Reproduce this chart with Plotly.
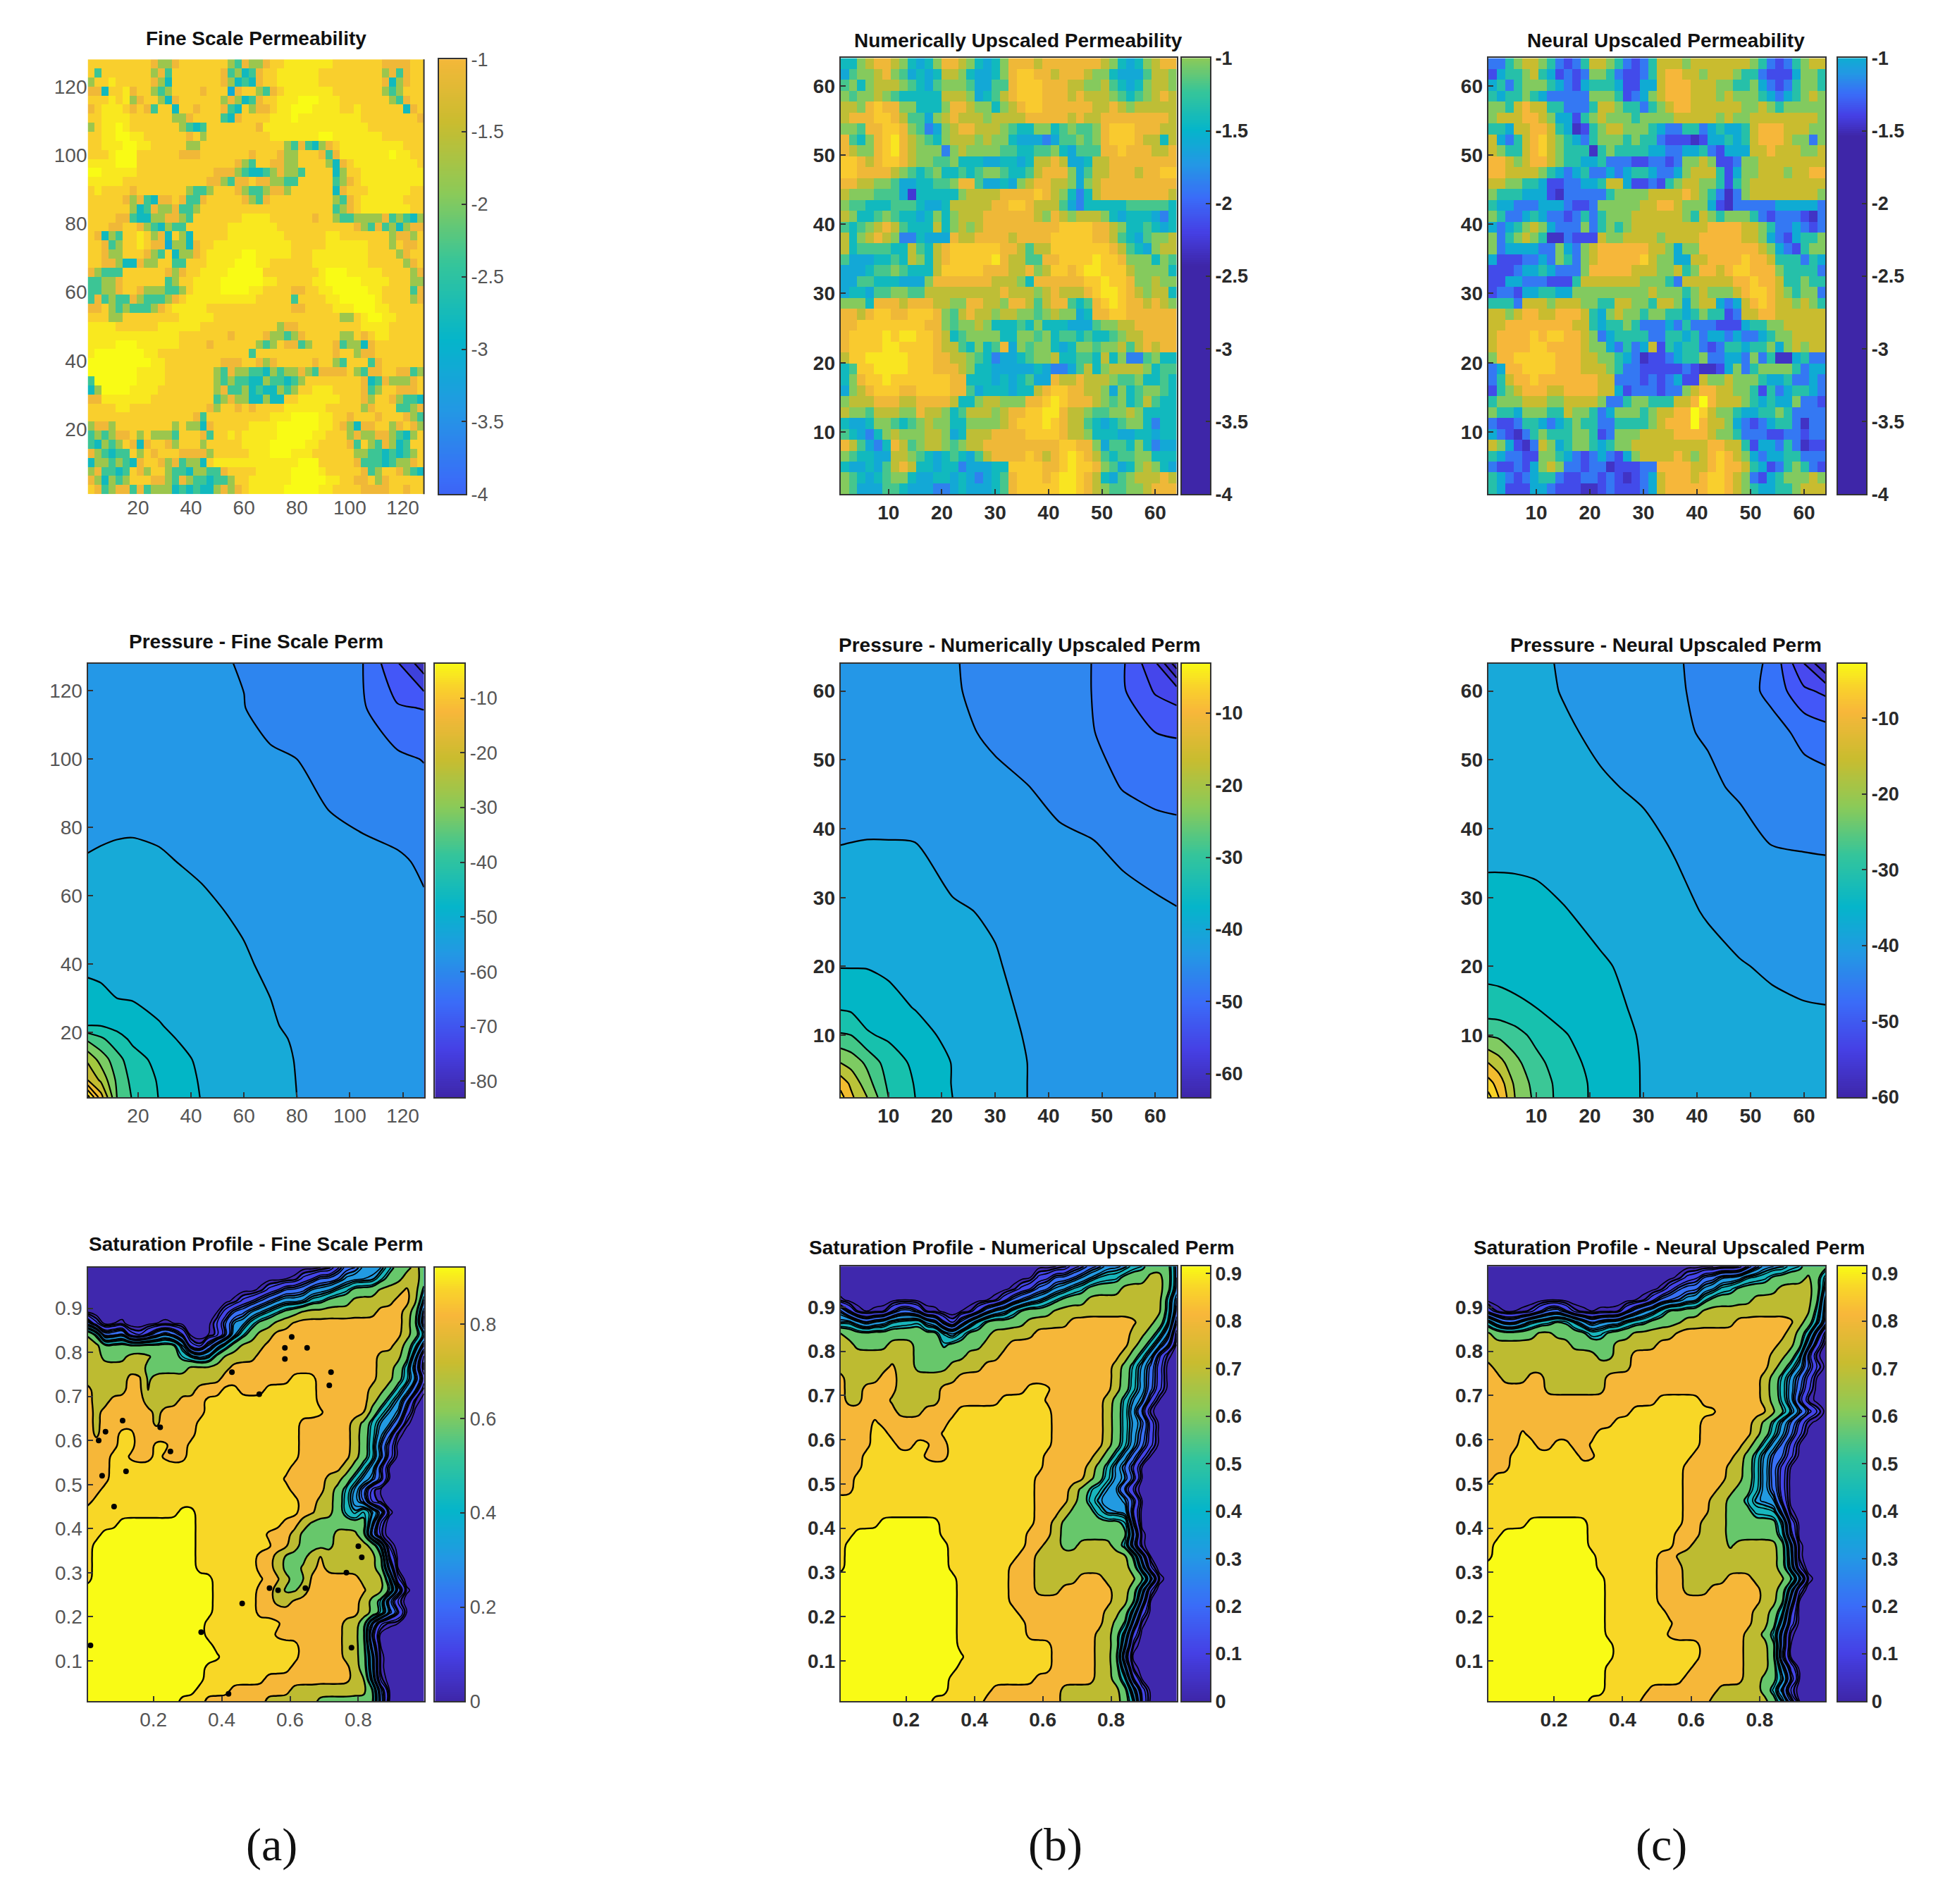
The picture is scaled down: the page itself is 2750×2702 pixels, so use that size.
import plotly.graph_objects as go

W, H = 2750, 2702

PARULA = [[0, "#3e26a8"], [.11, "#4540e5"], [.22, "#3a6cf8"], [.33, "#2398e4"], [.44, "#05b5ca"],
          [.56, "#35c59a"], [.67, "#8bca58"], [.78, "#c9bc2f"], [.89, "#f8b73a"], [.95, "#f9d42a"], [1, "#f9fb15"]]

TITLES = [["Fine Scale Permeability", "Numerically Upscaled Permeability", "Neural Upscaled Permeability"],
          ["Pressure - Fine Scale Perm", "Pressure - Numerically Upscaled Perm", "Pressure - Neural Upscaled Perm"],
          ["Saturation Profile - Fine Scale Perm", "Saturation Profile - Numerical Upscaled Perm", "Saturation Profile - Neural Upscaled Perm"]]
COLUMN_LABELS = ["(a)", "(b)", "(c)"]

# permeability: value of each digit class, per panel
PERM_A_LEVELS = [-4.0, -3.56, -3.12, -2.81, -2.37, -1.79, -1.04, -0.735, -0.58, -0.47]
PERM_B_LEVELS = [-2.26, -1.85, -1.60, -1.43, -1.19, -1.02, -0.81, -0.58, -0.45, -0.36]
PERM_C_LEVELS = [-1.47, -1.36, -1.21, -1.01, -0.85, -0.67, -0.51, -0.37, -0.30, -0.22]

PERM_A = [
"777777777655677777775465567788888887777777666677",
"747777777564777777764534677888888777777777564677",
"577877777653777777765343677888888777777777635677",
"663778677545777767772677546788888887777777545777",
"777878567753677777756534677888999888777777754677",
"678887676477377677764375667889998888778777777367",
"778888777777556777743677778889888888888777777776",
"578898777777754347777777688888888888888877777777",
"778899887777776757777777778888888998888888777777",
"778889988777775577777777777754643567888888888777",
"777899977777766677777776777655777646888888898877",
"888899977777777777777654776655777753678888888887",
"998888877777777777666543345655477773577888888888",
"888887777777777776654667665544777774567888888888",
"787777677777775445777654456657777773677788888877",
"777776564366764467777765467777777775467888888777",
"777777534655644577777777777777777774567888888877",
"777766433556654777777788887777776775445555645435",
"777667765435447777778888888777777777776546453566",
"763547787563753777778888888877777788777777756657",
"776457787662553677888888888887777788888877757667",
"776557776547355678888899888887778888888877775677",
"776653365577447778888999887777778888888877777567",
"654447777776567788889999977777777899988888777756",
"445567777774577888899999988777778899999888877755",
"445567765554457888899998877776677889999988777746",
"464544654445678888888888777774777788999998777756",
"667545444567888887777777777776677778889998877777",
"777557777777788888777777777777777777557899887777",
"888877777788888877777777777566777777777888877777",
"888888888888877777776777765545677777557678877777",
"888899988888877776777777545766457776455367777777",
"899999998877777777777774777777777776775667777777",
"999999999887777777766677656777776775477746777777",
"999999988887777777546554435455654666675466776645",
"499999988887777777545443354434577777777634655567",
"359999888877777777564453433545778887777645776667",
"668888888777777777456553353377888888777657765443",
"777788777777777776577676777788888877777567774456",
"777777777777777647777777778889999887767776777654",
"566577777777575536777778888999999887653667756765",
"454566757555477764778788888999998877756556654357",
"435457636776577757777788889999988777764754653477",
"654344757677766665777778889998887777775544343457",
"355454367765645537888888888888999777776444345567",
"564434765775443554467777888889999877777645776543",
"653545777665465443445778888889999988776675677777",
"764566464555343433565678888899999887777666677677"]

PERM_B = [
"3356776532357765323577767777777653235677",
"2455675423236653223578877677765532224665",
"4535666543245554224478887776655643235665",
"5455654333336665234678887776766654345676",
"6657877553335776553567887777776676566666",
"6777887644256766656666777776766777777776",
"5547788754125677666543355345445788877766",
"7435789765435666565532221244545788876636",
"7655789765551565555443344532444778777667",
"8876788765544533322332366762236677777777",
"8877776543453343455433467775246677767788",
"7766554223344577422325677665256777777777",
"6555444203333356666777787653136777777776",
"5443334443223666667788766642133333444443",
"6533454332353566677777765765666532333213",
"4345676433363565677777777788887765334323",
"6356765113222766777767777888887764324556",
"6344443364367888888776466888888876432566",
"4222334365367888889766447788889887555354",
"2223445433368888877766756887899888655553",
"2244333222577777776665377777788988755655",
"2332445544666666666766656766678998765663",
"5553777677766557766577646774347898776765",
"7767887788875467665665545655237788777777",
"7788888888775455653334353332224556677777",
"7888898998876345555335545344343345667777",
"7888899888876643534725455323554556467677",
"6889999988877665431223455633443635114533",
"3488999988877765332222232112463566665344",
"3578898888888773332323422766766654453343",
"2567888778888774233323367887766525345543",
"5666777667777633566555778987776545346433",
"6554666557665346665677889976654455653333",
"3223554345655335555678889876643234553133",
"4321356555665236667777888876653332233233",
"7642137645665456677777777788775244353122",
"5433226654323432467777876789876434455333",
"3223246763323312223388887789887542356532",
"5432345532233232123478887899876324566676",
"5422244322211232223478888899876544556777"]

PERM_C = [
"2245665421246654212466656666666542124566",
"1344564312125542112467766566654421113554",
"3424555432134443113367776665544532124554",
"4344543222225554123567776665655543234565",
"5546766442224665442456776666665565455555",
"5666776533145655545555666665655666666665",
"4436677643014566555432244234334677766655",
"6324678654324555454421110133434677765525",
"6544678654440454444332233421333667666556",
"7765677654433422211221255651125566666666",
"7766665432342232344322356664135566656677",
"6655443112233466311214566554145666666666",
"5444333102222245555666676542025666666665",
"4332223332112555556677655531022222333332",
"5422343221242455566666654654555421222102",
"3234565322252454566666666677776654223212",
"5245654002111655666656666777776653213445",
"5233332253256777777665355777777765321455",
"3111223254256777778655336677778776444243",
"1112334322257777766655645776788777544442",
"1133222111466666665554266666677877644544",
"1221334433555555555655545655567887654552",
"4442666566655446655466535663236787665654",
"6656776677764356554554434544126677666666",
"6677777777664344542223242221113445566666",
"6777787887765234444224434233232234556666",
"6777788777765532423614344212443445356566",
"5778888877766554320112344522332524003422",
"2377888877766654221111121001352455554233",
"2467787777777662221212311655655543342232",
"1456777667777663122212256776655414234432",
"4555666556666522455444667976665434335221",
"5443555446554235554566779865543344542222",
"2112443234544224444567779766532123442022",
"3210245444554125556666777765542221122122",
"6531026534554345566666666677664133242011",
"4322115543212321356666765678765323344222",
"2112135652212201112277776678776431245421",
"4321234421122121012367776788765213455565",
"4311133211100121112367777788765433445666"]

# pressure nodes and values (rows bottom to top)
P_A_X = [1, 6, 12, 18, 28, 44, 60, 70, 80, 92, 105, 118, 128]
P_A_Y = [1, 6, 12, 18, 22, 30, 40, 55, 70, 85, 100, 115, 128]
P_A_Z = [
[-3, -18, -35, -40.5, -45.2, -50.2, -52.5, -54, -55, -56, -57, -58, -58.5],
[-20, -26, -36, -41.5, -45.5, -50.5, -52.6, -54, -55.05, -56.2, -57.1, -58, -58.6],
[-26, -32, -38, -43, -46.5, -51, -53, -54.3, -55.1, -56.8, -57.5, -58.2, -58.8],
[-36, -39, -43, -46, -49, -51.5, -53.3, -54.6, -55.2, -56.9, -57.6, -58.3, -58.9],
[-45, -45.2, -46.5, -47.5, -49.8, -52, -53.5, -54.8, -55.4, -57, -57.6, -58.3, -59],
[-48.5, -49.2, -50, -50.3, -51, -52.5, -53.8, -55, -56, -57.1, -57.7, -58.4, -59.1],
[-51, -51, -51.2, -51.3, -52, -53, -54.5, -55.8, -56.6, -57.2, -57.8, -58.4, -59.2],
[-52.5, -52.5, -52.6, -52.8, -53.2, -54.2, -55.6, -56.2, -56.9, -57.5, -58.1, -58.8, -59.4],
[-54.8, -54.6, -54.4, -54.3, -54.6, -55.6, -56.5, -57, -57.5, -58, -58.8, -59.4, -60.6],
[-56, -55.9, -55.8, -55.8, -56, -56.8, -57.5, -58, -58.8, -60, -61, -62, -62.6],
[-57, -57, -57, -57.1, -57.4, -58.1, -58.8, -59.4, -60, -61, -62.5, -64, -65.2],
[-57.5, -57.5, -57.5, -57.7, -58, -59, -59.9, -61.5, -62, -63, -64.5, -69.5, -70.2],
[-58, -58, -58, -58.2, -58.6, -59.4, -60.2, -61.5, -62.2, -63.2, -65, -74.5, -83]]

P_B_X = [1, 3, 6, 10, 15, 22, 30, 36, 42, 48, 54, 60, 64]
P_B_Y = [1, 3, 6, 10, 14, 20, 28, 38, 46, 54, 60, 64]
P_B_Z = [
[-3, -9, -15, -25, -30, -35, -38.5, -40, -41, -42, -42.8, -43.5, -44],
[-7, -11, -18, -26, -30.3, -35.2, -38.6, -40, -41, -42, -42.8, -43.5, -44],
[-15, -17, -21, -27.5, -31, -35.2, -38.7, -40, -41, -42, -42.8, -43.5, -44],
[-24.5, -25, -29.5, -30.8, -33, -36.5, -39, -40.2, -41.2, -42.1, -43, -43.7, -44.2],
[-30.5, -31, -32, -33.5, -35.2, -37.5, -39.4, -40.4, -41.4, -42.3, -43.1, -43.8, -44.3],
[-35.2, -35.2, -35.2, -35.8, -37, -38.8, -39.7, -41, -41.8, -42.6, -43.3, -44, -44.5],
[-37.5, -37.5, -37.5, -37.6, -38.5, -39.6, -40.4, -41.4, -42.2, -43, -43.6, -44.3, -44.8],
[-40.1, -40, -39.9, -39.9, -40, -41.5, -42.8, -43.5, -44.4, -44.8, -46, -47, -47.5],
[-41.8, -41.8, -41.8, -42, -42.4, -43.2, -44.2, -44.9, -46, -47.5, -50.3, -52, -52.5],
[-42.5, -42.5, -42.6, -42.8, -43.2, -44.2, -45.6, -46.5, -47.5, -49.8, -51.5, -55, -55.3],
[-43, -43, -43, -43.2, -43.6, -44.7, -46, -47, -48.5, -50, -54.5, -60.5, -62.5],
[-43.2, -43.2, -43.2, -43.4, -43.8, -44.8, -46, -47.2, -48.8, -50, -54.5, -64, -78]]

P_C_X = [1, 3, 6, 10, 15, 22, 30, 36, 42, 48, 54, 60, 64]
P_C_Y = [1, 3, 6, 10, 14, 20, 28, 38, 46, 54, 60, 64]
P_C_Z = [
[-3, -10, -20, -26.5, -32, -36.5, -40.3, -41.5, -42.5, -43, -43.8, -44.3, -44.6],
[-8, -12, -21, -27, -32, -36.6, -40.3, -41.5, -42.5, -43, -43.8, -44.3, -44.6],
[-15, -18, -23.5, -28.5, -33, -37, -40.3, -41.6, -42.5, -43.2, -44, -44.4, -44.7],
[-25.5, -26, -28, -31.5, -34.5, -38, -40.4, -41.8, -42.7, -43.4, -44.2, -44.6, -44.8],
[-33, -33.2, -34, -35, -37, -39, -40.6, -42, -43, -43.7, -44.5, -44.8, -44.9],
[-36.5, -36.7, -37, -37.5, -38.3, -39.6, -41, -42.5, -43.5, -44.8, -45.4, -46, -46.3],
[-38.7, -38.7, -38.8, -39, -39.8, -41, -42.6, -43.8, -45.4, -46.2, -47, -47.5, -47.8],
[-41, -41, -41, -41.2, -41.7, -42.7, -44, -45.4, -46.5, -48, -50.2, -50.4, -50.5],
[-42, -42, -42, -42.3, -42.9, -44.5, -45.6, -46.8, -49, -50.8, -52, -52.7, -53],
[-43, -43, -43, -43.4, -44.4, -45.8, -47, -49.2, -50.5, -51.5, -53, -56.5, -58],
[-43.5, -43.5, -43.6, -44, -45.2, -46.5, -47.8, -49.5, -51, -52.5, -56.5, -64, -66],
[-43.6, -43.6, -43.7, -44.2, -45.4, -46.8, -48, -49.6, -51.2, -52.5, -56, -70, -80]]

P_A_BANDS = ["#3b2fb8", "#3e3fd8", "#4455f8", "#3b6cfa", "#2e84f0", "#2596e8", "#19a9d8", "#00b5c8", "#14c0b0",
             "#3ec78a", "#78cc66", "#a0c840", "#c0bb30", "#e8b830", "#ffc030", "#f8d828", "#f9fb15"]
P_B_BANDS = ["#3c2db0", "#3e2fb8", "#4338d0", "#4545ea", "#4455f6", "#3672f8", "#3086f0", "#2596e8", "#18a8dc",
             "#00b5c8", "#14c0b0", "#3ec78a", "#78cc66", "#b5c43a", "#f0ba30", "#f9dc25"]
P_C_BANDS = ["#3e2fb8", "#4338d0", "#4848ee", "#4455f8", "#3670fa", "#2e85f0", "#2596e8", "#1aa8da", "#00b5c8",
             "#14c0b0", "#35c79a", "#7ccc66", "#b5c43a", "#f0ba30", "#f8d028", "#f9f020"]

# saturation class maps, top row first; class d covers saturation d/10 .. (d+1)/10
SAT_BANDS = ["#3e26a8", "#4540e5", "#3a6cf8", "#2398e4", "#12b4c4", "#60c870", "#b8bc30", "#f6b53a", "#f8d428", "#f9fb15"]
SAT_A = [
"0000000000000000000000000000012233345565",
"0000000000000000000000000112223333455665",
"0000000000000000000001122233344555666764",
"0000000000000000001122333344555666667763",
"0000000000000000122334455666666666777652",
"2000000000000001233455667777777777777651",
"6512300123210000134566777777777777777654",
"6655555555540023456667777777777777776542",
"6655566655544335666677777777777777666530",
"6666666555556666677777777777777777665420",
"6666677566666666777777778887777777665431",
"7666677566666777887778888887777776654320",
"7667777666677788888888888887777776543200",
"7677777767776788888888888888777775433100",
"7677777767777888888888888777777654332000",
"7677887677777888888888888777777654320000",
"7777887788778888888888888777777654210000",
"7778877787778888888888888777777654310000",
"7778888888888888888888887777776543100000",
"7778888888888888888888877777665433200000",
"7788888888888888888888887777654320000000",
"7888888888888888888888888776654320000000",
"8888888888899888888888888776654354300000",
"8888999999999888888888877655555553000000",
"8899999999999888888887776555566651000000",
"8999999999999888888888776555566666400000",
"8999999999999888888877655567666666510000",
"8999999999999888888877655667666666520000",
"8999999999999998888887765577777766640000",
"9999999999999998888877655677777776653000",
"9999999999999998888877667777777765410000",
"9999999999999998888877777777777766532000",
"9999999999999988888888877777776652000000",
"9999999999999988888888777777776651000000",
"9999999999999998888888888777776652000000",
"9999999999999999888888888777776653000000",
"9999999999999988888888887777777653000000",
"9999999999999988888887777777777663000000",
"9999999999999888877777776666666665200000",
"9999999999988877777776666665555555200000"]

SAT_B = [
"0000000000000000000000000001122333445553",
"0000000000000000000000011222334445556653",
"0000000000000000000001122334455556666653",
"0000000000000000000122334455566666666642",
"3100001221000000123345555666666666666642",
"3432334445331023455555666667777777766541",
"6555555555554345556666677777777777665430",
"6655556665554555566677777777777777654320",
"6666666665555556666777777777777776543100",
"6666667665555666677777777777777765432100",
"7666677666666677777777777777777765432100",
"7667777666667777777777888777777765432100",
"7667776666667777777888887777777654331000",
"7777777666777788888888888777777654310000",
"7777877777777888888888888777777654331000",
"7777887777778888888888888777777654321000",
"7777888778877888888888888777777654321000",
"7778888888777888888888887777776543210000",
"7778888888888888888888887777765432100000",
"7788888888888888888888877777765433200000",
"7788888888888888888888877776544331000000",
"8888888888888888888888877776543333200000",
"8888888888888888888888877765554333100000",
"8888899999998888888888877655555555100000",
"8899999999998888888888777655555555300000",
"8999999999999888888888776655666654100000",
"8999999999999888888887766666666666520000",
"8999999999999888888877766666666666530000",
"9999999999999988888877766666777666654000",
"9999999999999988888877766677777766530000",
"9999999999999988888877777777777766520000",
"9999999999999988888887777777777665310000",
"9999999999999988888888777777777655200000",
"9999999999999988888888777777776653100000",
"9999999999999988888888888777776653000000",
"9999999999999998888888888777776651000000",
"9999999999999988888888888777776653000000",
"9999999999999888888888877777776654100000",
"9999999999999888887777777766666665310000",
"9999999999988888877777777766666665410000"]

SAT_C = [
"0000000000000000000000000000001233344555",
"0000000000000000000000011223334445555653",
"0000000000000000000001222334455555666653",
"0000000000000000000122233455555666666652",
"1000001221000000123345555666666666666642",
"4322344455432333444555566666677777776542",
"6555556655554455566666777777777777765420",
"6666666666555556666677777777777777665310",
"6666666666666556677777777777777776654100",
"7666666666666666677777777777777776543210",
"7766677666666677777777777777777765432100",
"7777777666666677777777777777777765432100",
"7777777777777777777788888777777765431000",
"7777777777777777788888888887777776543210",
"7777777777777778888888888777777654321000",
"7777877777777888888888888777777654321000",
"7777887788778888888888888777776543210000",
"7778888888877888888888887777765432210000",
"7778888888888888888888877777665432100000",
"7888888888888888888888877777665432100000",
"8888888888888888888888877776655432100000",
"8888888888888888888888877766554333100000",
"8888888888888888888888877766555444200000",
"8888899999998888888888877666555555410000",
"8899999999998888888888777666555555410000",
"8999999999998888888888776666566666530000",
"8999999999999888888877666666666666530000",
"9999999999999888888877766666666666530000",
"9999999999999988888877766666777666654000",
"9999999999999988888877766677777766530000",
"9999999999999988888877777777777766520000",
"9999999999999988888887777777777665410000",
"9999999999999988888888777777777665310000",
"9999999999999988888887777777776654200000",
"9999999999999998888888888777776665200000",
"9999999999999998888888888777776665100000",
"9999999999999988888888887777776665310000",
"9999999999999988888888877777776655420000",
"9999999999999988888777777776666654200000",
"9999999999998888887777777766666665420000"]

DOTS_A_X = [.04, .06, .11, .22, .25, .05, .12, .085, .43, .51, .585, .605, .65, .72, .715, .016, .46, .54, .565, .645, .765, .8, .81, .78, .34, .42, .585]
DOTS_A_Y = [.6, .62, .645, .63, .575, .52, .53, .45, .755, .705, .785, .835, .81, .755, .725, .135, .23, .265, .26, .265, .3, .36, .335, .13, .165, .025, .81]

SAT_LEVEL_VALUES = [0.05, 0.15, 0.25, 0.35, 0.45, 0.55, 0.65, 0.75, 0.85, 0.95]

# panel boxes: left, right, top, bottom in the shrunk picture; colour bars left, right
ROWS_Y = [[(48, 400), (47, 400), (47, 400)], [(537, 888)] * 3, [(1026, 1377), (1025, 1377), (1025, 1377)]]
COLS_X = [(71, 343), (680, 952), (1204, 1477)]
CB_X = [[(355, 377), (956, 979), (1487, 1510)], [(352, 376), (956, 979), (1487, 1510)], [(352, 376), (956, 979), (1487, 1510)]]
TITLE_POS = [[(207, 31), (824, 33), (1348, 33)], [(207, 519), (825, 522), (1348, 522)], [(207, 1007), (827, 1010), (1351, 1010)]]
LABEL_POS = [(220, 1493), (854, 1493), (1344, 1493)]

CB_RANGE = [[(-4, -1), (-4, -1), (-4, -1)], [(-82.9, -3.7), (-63.25, -3.15), (-60, -2.8)], [(0, .92), (0, .915), (0, .915)]]
CB_TICKS = [[[-1, -1.5, -2, -2.5, -3, -3.5, -4]] * 3,
            [[-10, -20, -30, -40, -50, -60, -70, -80], [-10, -20, -30, -40, -50, -60], [-10, -20, -30, -40, -50, -60]],
            [[0, .2, .4, .6, .8], [0, .1, .2, .3, .4, .5, .6, .7, .8, .9], [0, .1, .2, .3, .4, .5, .6, .7, .8, .9]]]
PERM_C_RANGE = [(-4.88, -.47), (-2.43, -.30), (-1.54, -.22)]

AX_RANGE = [[(1, 128), (1, 64), (1, 64)], [(1, 128), (1, 64), (1, 64)], [(.008, .992)] * 3]
AX_TICKS = [[[20, 40, 60, 80, 100, 120], [10, 20, 30, 40, 50, 60], [10, 20, 30, 40, 50, 60]],
            [[20, 40, 60, 80, 100, 120], [10, 20, 30, 40, 50, 60], [10, 20, 30, 40, 50, 60]],
            [[.2, .4, .6, .8]] * 3]
AX_YTICKS = [AX_TICKS[0], AX_TICKS[1], [[.1, .2, .3, .4, .5, .6, .7, .8, .9]] * 3]

FONT = "Liberation Sans, sans-serif"
TICK_SIZE = 28
TITLE_SIZE = 28


def digits(rows, n, levels):
    out = []
    for r in rows:
        r = (r + r[-1] * n)[:n]
        out.append([levels[int(c)] for c in r])
    return out


def soften(z):
    """Light neighbour blend of a class map so that its contour lines do not follow the cell steps."""
    ny, nx = len(z), len(z[0])
    out = []
    for j in range(ny):
        row = []
        for i in range(nx):
            up = z[max(j - 1, 0)][i]
            dn = z[min(j + 1, ny - 1)][i]
            lf = z[j][max(i - 1, 0)]
            rt = z[j][min(i + 1, nx - 1)]
            row.append(.5 * z[j][i] + .125 * (up + dn + lf + rt))
        out.append(row)
    return out


def band_scale(colors):
    # stops placed where the contour fills sample the scale
    n = len(colors)
    s = [[0, colors[0]]]
    for i, c in enumerate(colors):
        s.append([(i + .92) / n, c])
    s.append([1, colors[-1]])
    return s


fig = go.Figure()
layout = {}
annots = []
shapes = []
ax_n = 0

for r in range(3):
    for c in range(3):
        ax_n += 1
        xa, ya = f"x{ax_n}", f"y{ax_n}"
        x0, x1 = COLS_X[c]
        y0, y1 = ROWS_Y[r][c]
        tick_color = "#555555" if c == 0 else "#2a2a2a"
        tick_font = dict(family=FONT, size=TICK_SIZE, color=tick_color, weight=400 if c == 0 else 700)
        frameless = r == 0 and c == 0
        common = dict(showgrid=False, zeroline=False, ticks="" if frameless else "inside", ticklen=7, tickwidth=2, tickcolor="#333333",
                      showline=not frameless, linecolor="#333333", linewidth=2, mirror=True, tickfont=tick_font, automargin=False)
        rng = AX_RANGE[r][c]
        xfmt = dict(tickvals=AX_TICKS[r][c], ticktext=[str(v) for v in AX_TICKS[r][c]])
        yfmt = dict(tickvals=AX_YTICKS[r][c], ticktext=[str(v) for v in AX_YTICKS[r][c]])
        layout[f"xaxis{ax_n}"] = dict(domain=[x0 / 1568, x1 / 1568], anchor=ya, range=list(rng), **xfmt, **common)
        layout[f"yaxis{ax_n}"] = dict(domain=[1 - y1 / 1541, 1 - y0 / 1541], anchor=xa, range=list(rng), **yfmt, **common)
        if frameless:
            shapes.append(dict(type="line", xref="x domain", yref="y domain", x0=1, x1=1, y0=0, y1=1,
                               line=dict(color="#333333", width=2)))

        if r == 0:
            rows = [PERM_A, PERM_B, PERM_C][c]
            levels = [PERM_A_LEVELS, PERM_B_LEVELS, PERM_C_LEVELS][c]
            n = 48 if c == 0 else 40
            lo, hi = rng
            gx = [lo + (hi - lo) * (i + .5) / n for i in range(n)]
            z = digits(rows, n, levels)[::-1]
            cmin, cmax = PERM_C_RANGE[c]
            fig.add_trace(go.Heatmap(x=gx, y=gx, z=z, zmin=cmin, zmax=cmax, colorscale=PARULA, showscale=False,
                                     zsmooth=False, xaxis=xa, yaxis=ya, hoverinfo="skip"))
        elif r == 1:
            X, Y, Z, B = [(P_A_X, P_A_Y, P_A_Z, P_A_BANDS), (P_B_X, P_B_Y, P_B_Z, P_B_BANDS), (P_C_X, P_C_Y, P_C_Z, P_C_BANDS)][c]
            size = 5
            start = -5 - size * (len(B) - 1)
            fig.add_trace(go.Contour(x=X, y=Y, z=Z, colorscale=band_scale(B), showscale=False, autocontour=False,
                                     contours=dict(start=start, end=-5, size=size, coloring="fill", showlines=True),
                                     line=dict(color="black", width=2.2, smoothing=.7), xaxis=xa, yaxis=ya, hoverinfo="skip"))
        else:
            rows = [SAT_A, SAT_B, SAT_C][c]
            n = 40
            lo, hi = rng
            gx = [lo + (hi - lo) * i / (n - 1) for i in range(n)]
            z = soften(digits(rows, n, SAT_LEVEL_VALUES)[::-1])
            fig.add_trace(go.Contour(x=gx, y=gx, z=z, colorscale=band_scale(SAT_BANDS), showscale=False, autocontour=False,
                                     contours=dict(start=0, end=.9, size=.1, coloring="fill", showlines=True),
                                     line=dict(color="black", width=2.4, smoothing=1.3), xaxis=xa, yaxis=ya, hoverinfo="skip"))
            fig.add_trace(go.Contour(x=gx, y=gx, z=z, showscale=False, autocontour=False,
                                     contours=dict(start=.075, end=.5, size=.05, coloring="none", showlines=True),
                                     line=dict(color="black", width=1.6, smoothing=1.3), xaxis=xa, yaxis=ya, hoverinfo="skip"))
            if c == 0:
                fig.add_trace(go.Scatter(x=DOTS_A_X, y=DOTS_A_Y, mode="markers", marker=dict(color="black", size=8),
                                         xaxis=xa, yaxis=ya, hoverinfo="skip", showlegend=False))

        # colour bar axes
        ax_n += 1
        xa, ya = f"x{ax_n}", f"y{ax_n}"
        bx0, bx1 = CB_X[r][c]
        blo, bhi = CB_RANGE[r][c]
        steps = 200
        by = [blo + (bhi - blo) * i / steps for i in range(steps + 1)]
        if r == 0:
            zmin, zmax = PERM_C_RANGE[c]
        else:
            zmin, zmax = blo, bhi
        fig.add_trace(go.Heatmap(x=[0, 1], y=by, z=[[v, v] for v in by], zmin=zmin, zmax=zmax, colorscale=PARULA,
                                 showscale=False, xaxis=xa, yaxis=ya, hoverinfo="skip"))
        layout[f"xaxis{ax_n}"] = dict(domain=[bx0 / 1568, bx1 / 1568], anchor=ya, range=[0, 1], showticklabels=False, ticks="",
                                      showgrid=False, zeroline=False, showline=True, linecolor="#333333", linewidth=2, mirror=True,
                                      automargin=False)
        ticks = CB_TICKS[r][c]
        layout[f"yaxis{ax_n}"] = dict(domain=[1 - y1 / 1541, 1 - y0 / 1541], anchor=xa, side="right", range=[blo, bhi],
                                      tickvals=ticks, ticktext=[str(t) for t in ticks], ticks="inside", ticklen=6, tickwidth=2,
                                      tickcolor="#333333", showgrid=False, zeroline=False, showline=True, linecolor="#333333",
                                      linewidth=2, mirror=True, automargin=False,
                                      tickfont=dict(family=FONT, size=TICK_SIZE - 1, color=tick_color, weight=400 if c == 0 else 700))

        tx, ty = TITLE_POS[r][c]
        annots.append(dict(text=f"<b>{TITLES[r][c]}</b>", x=tx / 1568, y=1 - ty / 1541, xref="paper", yref="paper",
                           xanchor="center", yanchor="middle", showarrow=False,
                           font=dict(family=FONT, size=TITLE_SIZE, color="#111111")))

for (lx, ly), lab in zip(LABEL_POS, COLUMN_LABELS):
    annots.append(dict(text=lab, x=lx / 1568, y=1 - ly / 1541, xref="paper", yref="paper", xanchor="center", yanchor="middle",
                       showarrow=False, font=dict(family="Liberation Serif, serif", size=66, color="#111111")))

fig.update_layout(template="none", width=W, height=H, margin=dict(l=0, r=0, t=0, b=0), paper_bgcolor="white", plot_bgcolor="white",
                  showlegend=False, annotations=annots, shapes=shapes, **layout)
fig.write_html("out.html", config=dict(displayModeBar=False), post_script="document.body.style.margin='0';")
